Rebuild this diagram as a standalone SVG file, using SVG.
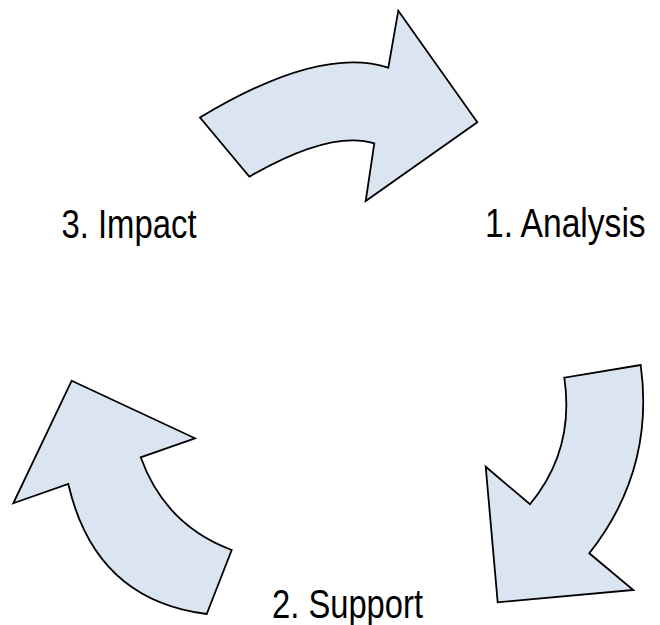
<svg xmlns="http://www.w3.org/2000/svg" width="660" height="625" viewBox="0 0 660 625">
<style>
.arrow{fill:#dbe5f1;stroke:#000;stroke-width:1.8;stroke-linejoin:miter}
.lbl{font-family:"Liberation Sans Narrow","Liberation Sans",Arial,sans-serif;font-size:41px;fill:#000}
</style>
<rect width="660" height="625" fill="#fff"/>
<g id="connectors">
<path id="arrow-top" class="arrow" d="M200,117.5 Q320,45 388.3,67.7 L398.3,10.7 L477.3,122.3 L365.7,201 L374.3,143.3 Q330,130 249.3,176.7 Z"/>
<path id="arrow-right" class="arrow" d="M640.7,365 L564.3,377.7 Q575,450 530,504.3 L485.7,466.7 L497.7,602.3 L633.3,590 L589.3,553.3 Q655,470 640.7,365 Z"/>
<path id="arrow-left" class="arrow" d="M71.7,380.7 L195,438.3 L140.7,457.3 Q165,525 231.7,550 L206.7,614 Q95,600 68.3,484 L13.3,503.3 Z"/>
</g>
<g id="node-analysis" transform="translate(485,237) scale(0.82,1)"><text class="lbl" x="0" y="0">1. Analysis</text></g>
<g id="node-support"><text class="lbl" x="272" y="617.5" textLength="151" lengthAdjust="spacingAndGlyphs">2. Support</text></g>
<g id="node-impact"><text class="lbl" x="61.5" y="237.5" textLength="135" lengthAdjust="spacingAndGlyphs">3. Impact</text></g>
</svg>
